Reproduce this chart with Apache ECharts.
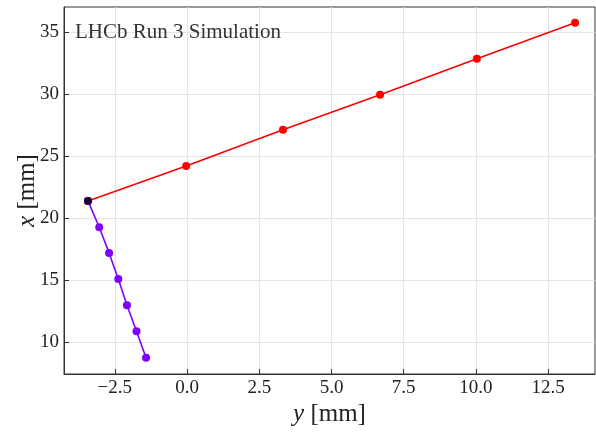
<!DOCTYPE html>
<html>
<head>
<meta charset="utf-8">
<script src="https://cdn.jsdelivr.net/npm/echarts@6/dist/echarts.min.js"></script>
<style>
html, body { margin: 0; padding: 0; background: #fff; }
#chart { width: 596px; height: 432px; }
</style>
</head>
<body>
<div id="chart"></div>
<script>
// track hits, horizontal = y [mm], vertical = x [mm]
const redY = [-3.43, -0.03, 3.32, 6.68, 10.03, 13.43];
const redX = [21.37, 24.19, 27.10, 29.92, 32.82, 35.73];
const purpleY = [-3.43, -3.04, -2.70, -2.38, -2.08, -1.75, -1.42];
const purpleX = [21.37, 19.25, 17.18, 15.08, 12.96, 10.86, 8.73];
const originY = [-3.43];
const originX = [21.37];
const xTicks = [-2.5, 0, 2.5, 5, 7.5, 10, 12.5];
const yTicks = [10, 15, 20, 25, 30, 35];

const font = '"Liberation Serif", "DejaVu Serif", serif';
const pairs = (a, b) => a.map((v, i) => [v, b[i]]);
const minus = v => v.toFixed(1).replace('-', '\u2212');

const chart = echarts.init(document.getElementById('chart'), null, { renderer: 'canvas' });

chart.setOption({
  animation: false,
  grid: { left: 64, right: 1, top: 7, bottom: 58, outerBoundsMode: 'none', containLabel: false,
    show: true, borderColor: '#333', borderWidth: 1 },
  graphic: [{
    type: 'text', left: 75, top: 22, z: 100,
    style: { text: 'LHCb Run 3 Simulation', font: '21px ' + font, fill: '#333' }
  }],
  xAxis: {
    type: 'value', min: -4.26, max: 14.12,
    name: '{i|y} [mm]', nameLocation: 'middle', nameGap: 28, nameMoveOverlap: false,
    nameTextStyle: { fontFamily: font, fontSize: 25, color: '#222',
      rich: { i: { fontFamily: font, fontStyle: 'italic', fontSize: 25, color: '#222' } } },
    axisLine: { onZero: false, lineStyle: { color: '#333' } },
    axisTick: { inside: true, length: 5, customValues: xTicks, lineStyle: { color: '#333' } },
    axisLabel: { customValues: xTicks, formatter: minus, fontFamily: font, fontSize: 19, color: '#222', margin: 5 },
    splitLine: { show: true, lineStyle: { color: '#e4e4e4' } }
  },
  yAxis: {
    type: 'value', min: 7.42, max: 37.0,
    name: '{i|x} [mm]', nameLocation: 'middle', nameGap: 24, nameRotate: 90, nameMoveOverlap: false,
    nameTextStyle: { fontFamily: font, fontSize: 25, color: '#222',
      rich: { i: { fontFamily: font, fontStyle: 'italic', fontSize: 25, color: '#222' } } },
    axisLine: { show: true, onZero: false, lineStyle: { color: '#333' } },
    axisTick: { show: true, inside: true, length: 5, customValues: yTicks, lineStyle: { color: '#333' } },
    axisLabel: { customValues: yTicks, fontFamily: font, fontSize: 19, color: '#222', margin: 5 },
    splitLine: { show: true, lineStyle: { color: '#e4e4e4' } }
  },
  series: [
    {
      type: 'line', data: pairs(redY, redX), symbol: 'circle', symbolSize: 8,
      itemStyle: { color: '#ff0000' }, lineStyle: { color: '#ff0000', width: 1.6 }
    },
    {
      type: 'line', data: pairs(purpleY, purpleX), symbol: 'circle', symbolSize: 8,
      itemStyle: { color: '#7f00ff' }, lineStyle: { color: '#7f00ff', width: 1.6 }
    },
    {
      type: 'scatter', data: pairs(originY, originX), symbol: 'circle', symbolSize: 8,
      itemStyle: { color: '#000' }, z: 5
    }
  ]
});
</script>
</body>
</html>
